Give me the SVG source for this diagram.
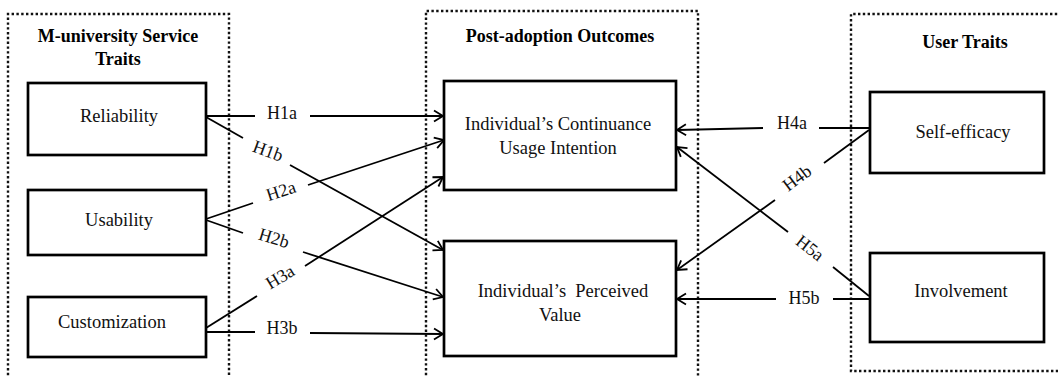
<svg xmlns="http://www.w3.org/2000/svg" width="1058" height="377" viewBox="0 0 1058 377">
<defs>
<marker id="arr" markerUnits="userSpaceOnUse" markerWidth="14" markerHeight="14" refX="11" refY="7" orient="auto" viewBox="0 0 14 14">
<path d="M2,1.5 L11,7 L2,12.5" fill="none" stroke="#000" stroke-width="1.8"/>
</marker>
</defs>
<style>
.grp{fill:none;stroke:#111;stroke-width:2.4;stroke-dasharray:2.4 2.4}
.box{fill:#fff;stroke:#000;stroke-width:2.7}
.t{font-family:"Liberation Serif","Times New Roman",serif;font-size:18.5px;fill:#111;text-anchor:middle}
.h{font-family:"Liberation Serif","Times New Roman",serif;font-size:18px;font-weight:bold;fill:#000;text-anchor:middle}
.lb{font-family:"Liberation Serif","Times New Roman",serif;font-size:18px;fill:#111;text-anchor:middle}
.c{fill:none;stroke:#000;stroke-width:1.8}
</style>
<rect width="1058" height="377" fill="#fff"/>
<g id="group-service">
<path class="grp" d="M8,380 V14 H229 V380"/>
<text class="h" x="118" y="42">M-university Service</text>
<text class="h" x="118" y="65">Traits</text>
</g>
<g id="group-outcomes">
<path class="grp" d="M426,380 V11 H698 V380"/>
<text class="h" x="560" y="42">Post-adoption Outcomes</text>
</g>
<g id="group-user">
<path class="grp" d="M1062,14 H851 V371 H1062"/>
<text class="h" x="965" y="48">User Traits</text>
</g>
<g id="connectors">
<path class="c" d="M206,116 H255"/>
<path class="c" d="M310,116 H443" marker-end="url(#arr)"/>
<path class="c" d="M206,117 L243,138"/>
<path class="c" d="M290,165 L443,250" marker-end="url(#arr)"/>
<path class="c" d="M206,219 L253,203"/>
<path class="c" d="M308,185 L444,140" marker-end="url(#arr)"/>
<path class="c" d="M206,220 L243,233"/>
<path class="c" d="M303,252 L443,297" marker-end="url(#arr)"/>
<path class="c" d="M206,328 L257,296"/>
<path class="c" d="M305,266 L443,177" marker-end="url(#arr)"/>
<path class="c" d="M206,332 H255"/>
<path class="c" d="M310,333 L443,334" marker-end="url(#arr)"/>
<path class="c" d="M870,128 H819"/>
<path class="c" d="M763,128 L677,130" marker-end="url(#arr)"/>
<path class="c" d="M869,130 L824,163"/>
<path class="c" d="M775,200 L677,270" marker-end="url(#arr)"/>
<path class="c" d="M869,296 L833,267"/>
<path class="c" d="M788,232 L677,147" marker-end="url(#arr)"/>
<path class="c" d="M870,299 H833"/>
<path class="c" d="M776,299 L677,299" marker-end="url(#arr)"/>
<text class="lb" x="282" y="119">H1a</text>
<text class="lb" transform="translate(268,151) rotate(20)" x="0" y="6">H1b</text>
<text class="lb" transform="translate(281,191) rotate(-18)" x="0" y="6">H2a</text>
<text class="lb" transform="translate(274,238) rotate(17)" x="0" y="6">H2b</text>
<text class="lb" transform="translate(280,277) rotate(-31)" x="0" y="6">H3a</text>
<text class="lb" x="282" y="334">H3b</text>
<text class="lb" x="792" y="129">H4a</text>
<text class="lb" transform="translate(797,178) rotate(-37)" x="0" y="6">H4b</text>
<text class="lb" transform="translate(810,248) rotate(38)" x="0" y="6">H5a</text>
<text class="lb" x="804" y="304">H5b</text>
</g>
<g id="reliability">
<rect class="box" x="28" y="83" width="178" height="72"/>
<text class="t" x="119" y="122">Reliability</text>
</g>
<g id="usability">
<rect class="box" x="28" y="190" width="178" height="65"/>
<text class="t" x="119" y="226">Usability</text>
</g>
<g id="customization">
<rect class="box" x="28" y="297" width="178" height="60"/>
<text class="t" x="112" y="328">Customization</text>
</g>
<g id="continuance">
<rect class="box" x="444" y="81" width="232" height="109"/>
<text class="t" x="558" y="130">Individual’s Continuance</text>
<text class="t" x="558" y="154">Usage Intention</text>
</g>
<g id="perceived-value">
<rect class="box" x="444" y="241" width="232" height="115"/>
<text class="t" x="563" y="297" xml:space="preserve">Individual’s  Perceived</text>
<text class="t" x="560" y="321">Value</text>
</g>
<g id="self-efficacy">
<rect class="box" x="870" y="92" width="174" height="81"/>
<text class="t" x="963" y="138">Self-efficacy</text>
</g>
<g id="involvement">
<rect class="box" x="870" y="253" width="174" height="89"/>
<text class="t" x="961" y="297">Involvement</text>
</g>
</svg>
